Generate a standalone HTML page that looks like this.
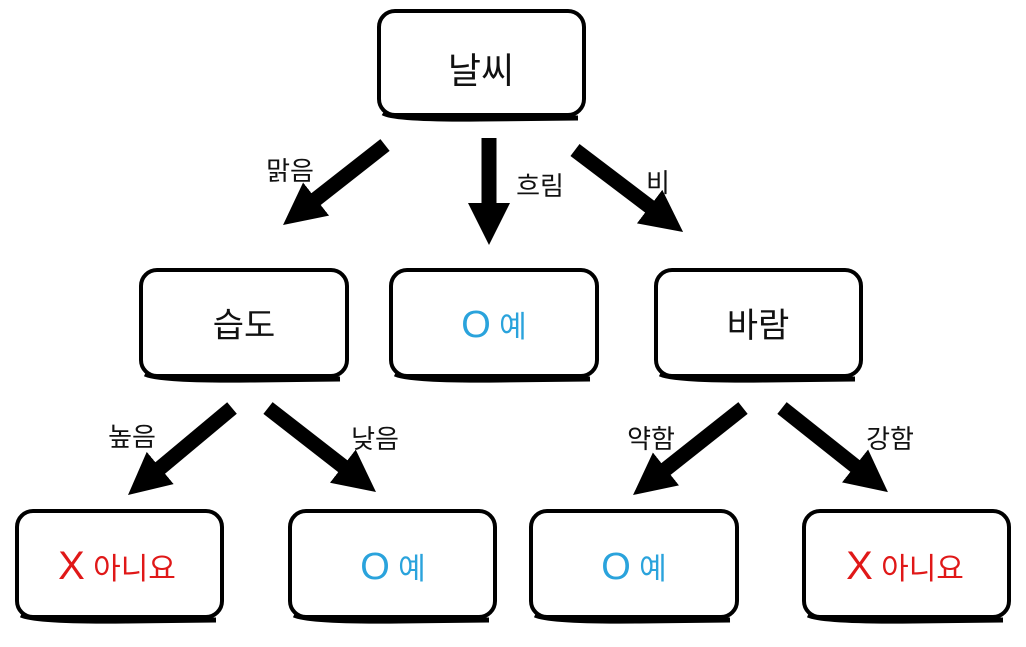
<!DOCTYPE html>
<html><head><meta charset="utf-8"><style>
html,body{margin:0;padding:0;background:#fff;}
svg{display:block;}
text{font-family:"Liberation Sans","Noto Sans CJK KR","NanumGothic",sans-serif;}
</style></head><body>
<svg width="1026" height="647" viewBox="0 0 1026 647" xmlns="http://www.w3.org/2000/svg">
<defs>
<marker id="ah" markerUnits="userSpaceOnUse" markerWidth="44" markerHeight="44" refX="2" refY="21" orient="auto">
<polygon points="0,0 42,21 0,42" fill="#000"/>
</marker>
</defs>
<g fill="#fff" stroke="#000" stroke-width="4">
<rect x="379" y="11" width="205" height="104" rx="16"/>
<rect x="141" y="270" width="206" height="106" rx="16"/>
<rect x="391" y="270" width="206" height="106" rx="16"/>
<rect x="656" y="270" width="205" height="106" rx="16"/>
<rect x="17" y="511" width="205" height="106" rx="16"/>
<rect x="290" y="511" width="205" height="106" rx="16"/>
<rect x="531" y="511" width="206" height="106" rx="16"/>
<rect x="804" y="511" width="205" height="106" rx="16"/>
</g>
<g fill="none" stroke="#000" stroke-width="5">
<path d="M383 113 Q395 120 480 119 L578 118"/>
<path d="M145 374 Q160 381 250 380 L340 379"/>
<path d="M395 374 Q410 381 500 380 L590 379"/>
<path d="M660 374 Q675 381 765 380 L855 379"/>
<path d="M21 615 Q36 622 126 621 L216 620"/>
<path d="M294 615 Q309 622 399 621 L489 620"/>
<path d="M535 615 Q550 622 640 621 L730 620"/>
<path d="M808 615 Q823 622 913 621 L1003 620"/>
</g>
<g stroke="#000" stroke-width="15" marker-end="url(#ah)">
<line x1="385" y1="145" x2="314.5" y2="200.3"/>
<line x1="489" y1="138" x2="489" y2="205"/>
<line x1="575" y1="150" x2="651.2" y2="207.8"/>
<line x1="232" y1="408" x2="158.7" y2="469.3"/>
<line x1="268" y1="408" x2="344.4" y2="467.4"/>
<line x1="743" y1="408" x2="664.4" y2="470.2"/>
<line x1="782" y1="408" x2="856.6" y2="467.2"/>
</g>
<g font-size="28" fill="#111" text-anchor="middle">
<text x="481" y="83" font-size="36">날씨</text>
<text x="244" y="337" font-size="34">습도</text>
<text x="758" y="337" font-size="34">바람</text>
<text x="290" y="180" font-size="26">맑음</text>
<text x="540" y="195" font-size="26">흐림</text>
<text x="658" y="192" font-size="26">비</text>
<text x="132" y="446" font-size="26">높음</text>
<text x="375" y="448" font-size="26">낮음</text>
<text x="651" y="448" font-size="26">약함</text>
<text x="890" y="448" font-size="26">강함</text>
</g>
<g font-size="30" text-anchor="middle">
<text x="494" y="337" fill="#2aa3dc"><tspan font-size="38">O</tspan> 예</text>
<text x="393" y="579" fill="#2aa3dc"><tspan font-size="38">O</tspan> 예</text>
<text x="634" y="579" fill="#2aa3dc"><tspan font-size="38">O</tspan> 예</text>
<text x="117" y="579" fill="#e01818"><tspan font-size="40">X</tspan> 아니요</text>
<text x="905" y="579" fill="#e01818"><tspan font-size="40">X</tspan> 아니요</text>
</g>
</svg>
</body></html>
